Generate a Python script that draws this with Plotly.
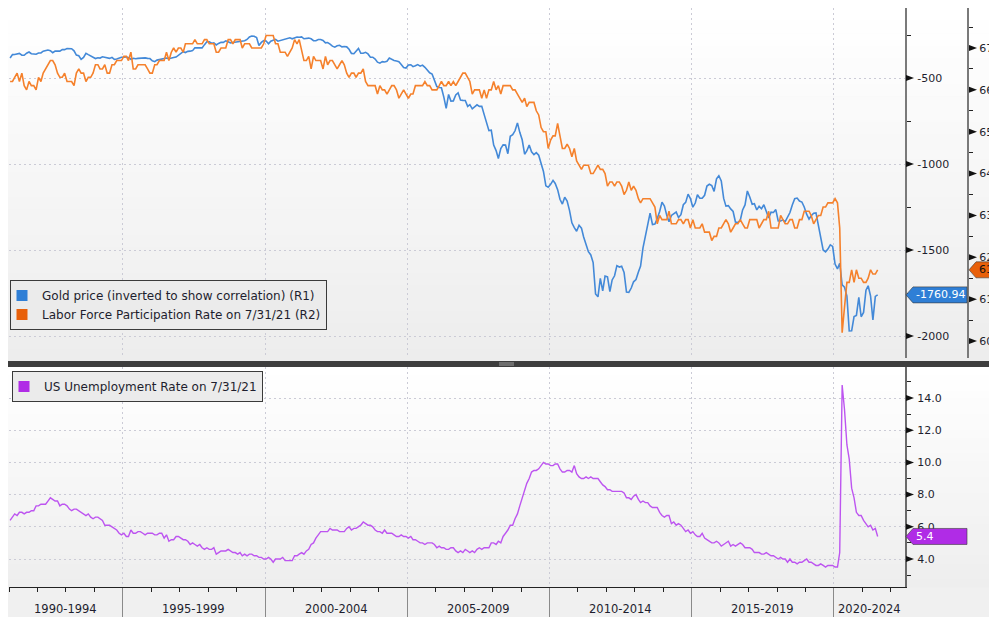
import pandas as pd
import plotly.graph_objects as go

# ---------------- data (monthly, Jan 1991 .. Jul 2021) ----------------
gold_price = [
    384, 364, 363, 358, 357, 367, 368, 356, 349, 359, 360, 362,   # 1991
    355, 354, 344, 339, 337, 341, 353, 343, 345, 344, 335, 335,   # 1992
    329, 329, 330, 342, 367, 371, 392, 380, 356, 364, 373, 383,   # 1993
    387, 382, 384, 377, 381, 386, 386, 380, 392, 390, 384, 379,   # 1994
    379, 377, 382, 391, 385, 388, 386, 384, 383, 383, 386, 387,   # 1995
    400, 405, 396, 393, 392, 385, 384, 388, 383, 381, 378, 369,   # 1996
    355, 347, 352, 345, 344, 341, 324, 324, 323, 325, 306, 289,   # 1997
    289, 298, 296, 308, 299, 292, 293, 284, 289, 296, 294, 292,   # 1998
    287, 287, 286, 283, 276, 261, 256, 257, 265, 311, 293, 283,   # 1999
    285, 301, 286, 280, 275, 286, 282, 275, 274, 270, 266, 272,   # 2000
    266, 262, 263, 261, 272, 270, 268, 272, 283, 283, 276, 276,   # 2001
    282, 296, 294, 303, 315, 321, 313, 310, 319, 317, 319, 333,   # 2002
    357, 359, 341, 328, 356, 356, 351, 360, 379, 379, 390, 408,   # 2003
    414, 405, 407, 403, 384, 392, 398, 401, 405, 421, 439, 442,   # 2004
    424, 423, 434, 429, 422, 431, 425, 438, 456, 470, 477, 510,   # 2005
    550, 555, 557, 611, 677, 596, 634, 633, 598, 586, 628, 630,   # 2006
    631, 665, 655, 679, 667, 656, 665, 665, 713, 755, 806, 803,   # 2007
    890, 922, 968, 910, 889, 890, 940, 839, 830, 807, 761, 816,   # 2008
    859, 943, 924, 890, 929, 946, 934, 949, 997, 1043, 1127, 1135,  # 2009
    1118, 1095, 1113, 1149, 1205, 1233, 1193, 1216, 1271, 1342, 1370, 1391,  # 2010
    1356, 1373, 1424, 1474, 1510, 1529, 1573, 1756, 1772, 1665, 1738, 1652,  # 2011
    1656, 1742, 1674, 1650, 1591, 1599, 1594, 1630, 1745, 1747, 1721, 1685,  # 2012
    1672, 1628, 1593, 1488, 1414, 1343, 1286, 1352, 1349, 1317, 1276, 1222,  # 2013
    1244, 1300, 1336, 1299, 1288, 1279, 1311, 1295, 1237, 1223, 1175, 1201,  # 2014
    1251, 1227, 1179, 1199, 1199, 1182, 1128, 1118, 1125, 1159, 1086, 1068,  # 2015
    1098, 1200, 1245, 1242, 1261, 1276, 1337, 1340, 1327, 1267, 1238, 1157,  # 2016
    1192, 1234, 1231, 1267, 1246, 1260, 1237, 1283, 1314, 1280, 1282, 1265,  # 2017
    1331, 1331, 1325, 1335, 1304, 1282, 1238, 1202, 1198, 1215, 1221, 1250,  # 2018
    1292, 1320, 1301, 1286, 1284, 1359, 1413, 1500, 1511, 1495, 1470, 1479,  # 2019
    1582, 1610, 1577, 1703, 1716, 1768, 1971, 1970, 1887, 1880, 1776, 1888,  # 2020
    1863, 1734, 1708, 1768, 1906, 1770, 1760.94,                             # 2021
]

participation_rate = [
    66.2, 66.2, 66.3, 66.4, 66.2, 66.4, 66.1, 66.0, 66.2, 66.1, 66.1, 66.0,  # 1991
    66.3, 66.2, 66.4, 66.5, 66.6, 66.7, 66.7, 66.6, 66.4, 66.3, 66.3, 66.4,  # 1992
    66.2, 66.2, 66.2, 66.1, 66.4, 66.5, 66.4, 66.4, 66.2, 66.3, 66.3, 66.4,  # 1993
    66.6, 66.6, 66.5, 66.5, 66.6, 66.4, 66.4, 66.6, 66.6, 66.7, 66.7, 66.7,  # 1994
    66.8, 66.8, 66.7, 66.9, 66.5, 66.5, 66.6, 66.6, 66.6, 66.6, 66.5, 66.4,  # 1995
    66.4, 66.6, 66.6, 66.7, 66.7, 66.7, 66.9, 66.7, 66.9, 67.0, 66.9, 67.0,  # 1996
    67.0, 66.9, 67.1, 67.1, 67.1, 67.1, 67.2, 67.1, 67.1, 67.1, 67.2, 67.2,  # 1997
    67.1, 67.1, 67.1, 66.9, 66.9, 67.0, 67.0, 67.0, 67.2, 67.2, 67.1, 67.2,  # 1998
    67.2, 67.2, 67.0, 67.1, 67.1, 67.1, 67.0, 67.0, 67.0, 67.0, 67.0, 67.1,  # 1999
    67.3, 67.3, 67.3, 67.3, 67.1, 67.1, 66.9, 66.9, 66.9, 66.8, 66.9, 67.0,  # 2000
    67.2, 67.1, 67.2, 66.9, 66.7, 66.7, 66.8, 66.5, 66.8, 66.7, 66.7, 66.7,  # 2001
    66.5, 66.8, 66.6, 66.7, 66.7, 66.6, 66.5, 66.6, 66.7, 66.6, 66.4, 66.3,  # 2002
    66.4, 66.4, 66.3, 66.4, 66.4, 66.5, 66.2, 66.1, 66.1, 66.1, 66.1, 65.9,  # 2003
    66.1, 66.0, 66.0, 65.9, 66.0, 66.1, 66.1, 66.0, 65.8, 65.9, 66.0, 65.9,  # 2004
    65.8, 65.9, 65.9, 66.1, 66.1, 66.1, 66.1, 66.2, 66.1, 66.1, 66.0, 66.0,  # 2005
    66.0, 66.1, 66.2, 66.1, 66.1, 66.2, 66.1, 66.2, 66.1, 66.2, 66.3, 66.4,  # 2006
    66.4, 66.3, 66.2, 65.9, 66.0, 66.0, 66.0, 65.8, 66.0, 65.8, 66.0, 66.0,  # 2007
    66.2, 66.0, 66.1, 65.9, 66.1, 66.1, 66.1, 66.1, 66.0, 66.0, 65.9, 65.8,  # 2008
    65.7, 65.8, 65.6, 65.7, 65.7, 65.7, 65.5, 65.4, 65.1, 65.0, 65.0, 64.6,  # 2009
    64.8, 64.9, 64.9, 65.2, 64.9, 64.6, 64.6, 64.7, 64.6, 64.4, 64.6, 64.3,  # 2010
    64.2, 64.1, 64.2, 64.2, 64.2, 64.0, 64.0, 64.1, 64.2, 64.1, 64.1, 64.0,  # 2011
    63.7, 63.8, 63.8, 63.7, 63.8, 63.8, 63.7, 63.5, 63.6, 63.8, 63.6, 63.7,  # 2012
    63.6, 63.4, 63.3, 63.4, 63.4, 63.4, 63.4, 63.3, 63.2, 62.8, 63.0, 62.9,  # 2013
    62.9, 62.9, 63.1, 62.8, 62.8, 62.8, 62.9, 62.9, 62.8, 62.9, 62.9, 62.7,  # 2014
    62.9, 62.7, 62.7, 62.7, 62.8, 62.6, 62.6, 62.6, 62.4, 62.5, 62.5, 62.7,  # 2015
    62.7, 62.8, 62.9, 62.8, 62.6, 62.7, 62.8, 62.8, 62.9, 62.8, 62.7, 62.7,  # 2016
    62.9, 62.9, 62.9, 62.9, 62.7, 62.8, 62.9, 62.9, 63.1, 62.7, 62.7, 62.7,  # 2017
    62.7, 63.0, 62.9, 62.8, 62.8, 62.9, 62.9, 62.7, 62.7, 62.9, 62.9, 63.1,  # 2018
    63.1, 63.1, 63.0, 62.8, 62.9, 63.0, 63.0, 63.2, 63.2, 63.3, 63.3, 63.3,  # 2019
    63.4, 63.3, 62.7, 60.2, 60.8, 61.4, 61.4, 61.7, 61.4, 61.7, 61.5, 61.5,  # 2020
    61.4, 61.4, 61.5, 61.7, 61.6, 61.6, 61.7,                                # 2021
]

unemployment_rate = [
    6.4, 6.6, 6.8, 6.7, 6.9, 6.9, 6.8, 6.9, 6.9, 7.0, 7.0, 7.3,   # 1991
    7.3, 7.4, 7.4, 7.4, 7.6, 7.8, 7.7, 7.6, 7.6, 7.3, 7.4, 7.4,   # 1992
    7.3, 7.1, 7.0, 7.1, 7.1, 7.0, 6.9, 6.8, 6.7, 6.8, 6.6, 6.5,   # 1993
    6.6, 6.6, 6.5, 6.4, 6.1, 6.1, 6.1, 6.0, 5.9, 5.8, 5.6, 5.5,   # 1994
    5.6, 5.4, 5.4, 5.8, 5.6, 5.6, 5.7, 5.7, 5.6, 5.5, 5.6, 5.6,   # 1995
    5.6, 5.5, 5.5, 5.6, 5.6, 5.3, 5.5, 5.1, 5.2, 5.2, 5.4, 5.4,   # 1996
    5.3, 5.2, 5.2, 5.1, 4.9, 5.0, 4.9, 4.8, 4.9, 4.7, 4.6, 4.7,   # 1997
    4.6, 4.6, 4.7, 4.3, 4.4, 4.5, 4.5, 4.5, 4.6, 4.5, 4.4, 4.4,   # 1998
    4.3, 4.4, 4.2, 4.3, 4.2, 4.3, 4.3, 4.2, 4.2, 4.1, 4.1, 4.0,   # 1999
    4.0, 4.1, 4.0, 3.8, 4.0, 4.0, 4.0, 4.1, 3.9, 3.9, 3.9, 3.9,   # 2000
    4.2, 4.2, 4.3, 4.4, 4.3, 4.5, 4.6, 4.9, 5.0, 5.3, 5.5, 5.7,   # 2001
    5.7, 5.7, 5.7, 5.9, 5.8, 5.8, 5.8, 5.7, 5.7, 5.7, 5.9, 6.0,   # 2002
    5.8, 5.9, 5.9, 6.0, 6.1, 6.3, 6.2, 6.1, 6.1, 6.0, 5.8, 5.7,   # 2003
    5.7, 5.6, 5.8, 5.6, 5.6, 5.6, 5.5, 5.4, 5.4, 5.5, 5.4, 5.4,   # 2004
    5.3, 5.4, 5.2, 5.2, 5.1, 5.0, 5.0, 4.9, 5.0, 5.0, 5.0, 4.9,   # 2005
    4.7, 4.8, 4.7, 4.7, 4.6, 4.6, 4.7, 4.7, 4.5, 4.4, 4.5, 4.4,   # 2006
    4.6, 4.5, 4.4, 4.5, 4.4, 4.6, 4.7, 4.6, 4.7, 4.7, 4.7, 5.0,   # 2007
    5.0, 4.9, 5.1, 5.0, 5.4, 5.6, 5.8, 6.1, 6.1, 6.5, 6.8, 7.3,   # 2008
    7.8, 8.3, 8.7, 9.0, 9.4, 9.5, 9.5, 9.6, 9.8, 10.0, 9.9, 9.9,  # 2009
    9.8, 9.8, 9.9, 9.9, 9.6, 9.4, 9.4, 9.5, 9.5, 9.4, 9.8, 9.3,   # 2010
    9.1, 9.0, 9.0, 9.1, 9.0, 9.1, 9.0, 9.0, 9.0, 8.8, 8.6, 8.5,   # 2011
    8.3, 8.3, 8.2, 8.2, 8.2, 8.2, 8.2, 8.1, 7.8, 7.8, 7.7, 7.9,   # 2012
    8.0, 7.7, 7.5, 7.6, 7.5, 7.5, 7.3, 7.2, 7.2, 7.2, 6.9, 6.7,   # 2013
    6.6, 6.7, 6.7, 6.2, 6.3, 6.1, 6.2, 6.1, 5.9, 5.7, 5.8, 5.6,   # 2014
    5.7, 5.5, 5.4, 5.4, 5.6, 5.3, 5.2, 5.1, 5.0, 5.0, 5.1, 5.0,   # 2015
    4.8, 4.9, 5.0, 5.1, 4.8, 4.9, 4.8, 4.9, 5.0, 4.9, 4.7, 4.7,   # 2016
    4.7, 4.6, 4.4, 4.4, 4.4, 4.3, 4.3, 4.4, 4.3, 4.2, 4.2, 4.1,   # 2017
    4.0, 4.1, 4.0, 4.0, 3.8, 4.0, 3.8, 3.8, 3.7, 3.8, 3.8, 3.9,   # 2018
    4.0, 3.8, 3.8, 3.7, 3.6, 3.6, 3.7, 3.6, 3.5, 3.6, 3.6, 3.6,   # 2019
    3.5, 3.5, 4.4, 14.8, 13.3, 11.1, 10.2, 8.4, 7.8, 6.9, 6.7, 6.7,  # 2020
    6.4, 6.2, 6.0, 6.1, 5.8, 5.9, 5.4,                               # 2021
]

period_labels = ["1990-1994", "1995-1999", "2000-2004", "2005-2009",
                 "2010-2014", "2015-2019", "2020-2024"]
period_starts = [1990, 1995, 2000, 2005, 2010, 2015, 2020]
r1_ticks = [-500, -1000, -1500, -2000]
r2_ticks = [60, 61, 62, 63, 64, 65, 66, 67]
r3_ticks = [4, 6, 8, 10, 12, 14]

gold_name = "Gold price (inverted to show correlation) (R1)"
lfpr_name = "Labor Force Participation Rate on 7/31/21 (R2)"
unemp_name = "US Unemployment Rate on 7/31/21"

# ---------------- styling / geometry ----------------
BLUE, ORANGE, PURPLE = "#4389d8", "#f5812c", "#bd55f0"
BLUE_BOX, ORANGE_BOX, PURPLE_BOX = "#2f7fd6", "#e8600a", "#b02ce6"
TXT = "#1e1e2e"
OFF = 8                      # page body margin: figure sits at (8, 8) in the window
W, H = 997 - OFF, 617 - OFF
ML, MR, MT, MB = 1, 29, 0, 30
PW, PH = W - ML - MR, H - MT - MB


def px(p):  # window pixel x -> paper fraction
    return (p - OFF - ML) / PW


def py(p):  # window pixel y -> paper fraction
    return (H - MB - (p - OFF)) / PH


def span(v1, p1, v2, p2, top, bot):  # axis range from two reference tick positions
    k = (v1 - v2) / (p1 - p2)
    return [v1 + (bot - p1) * k, v1 + (top - p1) * k]


X_END = px(905)
TOP_PX, TOP_BOT_PX = 8, 358
BOT_TOP_PX, BOT_PX = 367, 587
TOP_DOM = [py(TOP_BOT_PX), 1.0]
BOT_DOM = [0.0, py(BOT_TOP_PX)]
X_RANGE = ["1991-01-01", "2022-07-01"]
R1_RANGE = span(-500, 78, -2000, 336, TOP_PX, TOP_BOT_PX)
R2_RANGE = span(67, 48, 60, 341, TOP_PX, TOP_BOT_PX)
R3_RANGE = span(14, 398, 4, 559, BOT_TOP_PX, BOT_PX)

months = pd.date_range("1991-01-01", periods=len(gold_price), freq="MS") + pd.Timedelta(days=14)
gold_inverted = [-v for v in gold_price]

fig = go.Figure()
fig.add_trace(go.Scatter(x=months, y=gold_inverted, xaxis="x2", yaxis="y", mode="lines",
                         line=dict(color=BLUE, width=1.6), showlegend=False, hoverinfo="skip"))
fig.add_trace(go.Scatter(x=months[:len(participation_rate)], y=participation_rate, xaxis="x2", yaxis="y2",
                         mode="lines", line=dict(color=ORANGE, width=1.6), showlegend=False, hoverinfo="skip"))
fig.add_trace(go.Scatter(x=months[:len(unemployment_rate)], y=unemployment_rate, xaxis="x", yaxis="y3",
                         mode="lines", line=dict(color=PURPLE, width=1.4), showlegend=False, hoverinfo="skip"))

# legend entries (square swatches)
for name, col, leg, xa, ya in [(gold_name, BLUE_BOX, "legend", "x2", "y"),
                               (lfpr_name, ORANGE_BOX, "legend", "x2", "y2"),
                               (unemp_name, PURPLE_BOX, "legend2", "x", "y3")]:
    fig.add_trace(go.Scatter(x=[None], y=[None], mode="markers", name=name, legend=leg,
                             xaxis=xa, yaxis=ya,
                             marker=dict(symbol="square", size=11, color=col)))

year_ticks = [f"{y}-01-01" for y in period_starts[1:]]
grid = dict(showgrid=True, gridcolor="#cbcbd6", griddash="2px,3px", gridwidth=1)
tickfont = dict(family="DejaVu Sans", size=11, color=TXT)
legfont = dict(family="DejaVu Sans", size=12, color=TXT)
hidden_major = dict(ticks="outside", ticklen=8, tickwidth=1, tickcolor="rgba(0,0,0,0)")

fig.update_layout(
    width=W, height=H,
    margin=dict(l=ML, r=MR, t=MT, b=MB, autoexpand=False),
    paper_bgcolor="#f0f0f0", plot_bgcolor="rgba(0,0,0,0)",
    font=dict(family="DejaVu Sans", size=11, color=TXT),
    xaxis=dict(domain=[0, X_END], anchor="y3", type="date", range=X_RANGE,
               tickmode="array", tickvals=year_ticks, showticklabels=False,
               ticks="outside", ticklen=30, tickcolor="#8a8a8a", tickwidth=1,
               showline=True, linecolor="#222222", linewidth=1, zeroline=False,
               minor=dict(dtick="M12", tick0="1991-01-01", ticks="outside", ticklen=4,
                          tickcolor="#222222", tickwidth=1, showgrid=False),
               **grid),
    xaxis2=dict(domain=[0, X_END], anchor="y", matches="x", type="date",
                tickmode="array", tickvals=year_ticks, showticklabels=False, ticks="",
                showline=False, zeroline=False, **grid),
    yaxis=dict(domain=TOP_DOM, anchor="x2", side="right", range=R1_RANGE,
               tickmode="array", tickvals=r1_ticks, ticktext=[str(v) for v in r1_ticks],
               tickfont=tickfont, **hidden_major,
               showline=True, linecolor="#7a7a7a", linewidth=2, zeroline=False, automargin=False,
               minor=dict(dtick=250, tick0=0, ticks="outside", ticklen=4, tickcolor="#222222",
                          tickwidth=1, showgrid=False),
               **grid),
    yaxis2=dict(overlaying="y", anchor="free", position=1.0, side="right", range=R2_RANGE,
                tickmode="array", tickvals=r2_ticks, ticktext=[f"{v:.1f}" for v in r2_ticks],
                tickfont=tickfont, **hidden_major,
                showline=True, linecolor="#7a7a7a", linewidth=2, zeroline=False, showgrid=False,
                automargin=False,
                minor=dict(dtick=0.5, tick0=0, ticks="outside", ticklen=4, tickcolor="#222222",
                           tickwidth=1, showgrid=False)),
    yaxis3=dict(domain=BOT_DOM, anchor="x", side="right", range=R3_RANGE,
                tickmode="array", tickvals=r3_ticks, ticktext=[f"{v:.1f}" for v in r3_ticks],
                tickfont=tickfont, **hidden_major,
                showline=True, linecolor="#6a6a6a", linewidth=2, zeroline=False, automargin=False,
                minor=dict(dtick=1, tick0=0, ticks="outside", ticklen=4, tickcolor="#222222",
                           tickwidth=1, showgrid=False),
                **grid),
    legend=dict(x=px(10), y=py(280), xanchor="left", yanchor="top", bgcolor="#ebebeb",
                bordercolor="#3a3a3a", borderwidth=1, itemwidth=30, tracegroupgap=0,
                indentation=-9, font=legfont),
    legend2=dict(x=px(12), y=py(371), xanchor="left", yanchor="top", bgcolor="#ebebeb",
                 bordercolor="#3a3a3a", borderwidth=1, itemwidth=30, indentation=-9,
                 font=legfont),
    showlegend=True,
)


# background gradients (panel shading)
def hexmix(c1, c2, t):
    a = [int(c1[i:i + 2], 16) for i in (1, 3, 5)]
    b = [int(c2[i:i + 2], 16) for i in (1, 3, 5)]
    return "#" + "".join(f"{round(a[k] + (b[k] - a[k]) * t):02x}" for k in range(3))


def gradient(top_px, bot_px, c_top, c_bot, n=28):
    for i in range(n):
        y0 = top_px + (bot_px - top_px) * i / n
        y1 = top_px + (bot_px - top_px) * (i + 1) / n
        fig.add_shape(type="rect", xref="paper", yref="paper", x0=px(OFF), x1=px(997),
                      y0=py(y1 + 0.5), y1=py(y0), fillcolor=hexmix(c_top, c_bot, i / (n - 1)),
                      line=dict(width=0), layer="below")


gradient(OFF, 361, "#ffffff", "#ededed")
gradient(367, 587, "#ffffff", "#eeeeee")

# panel divider
fig.add_shape(type="rect", xref="paper", yref="paper", x0=px(OFF), x1=px(997), y0=py(367), y1=py(361),
              fillcolor="#3e3e3e", line=dict(width=0), layer="above")
fig.add_shape(type="rect", xref="paper", yref="paper", x0=px(499), x1=px(514), y0=py(366), y1=py(362),
              fillcolor="#6e6e6e", line=dict(width=0), layer="above")

# triangular major-tick pointers on the value axes
for vals, yref, xa in [(r1_ticks, "y", X_END), (r2_ticks, "y2", 1.0), (r3_ticks, "y3", X_END)]:
    for v in vals:
        fig.add_shape(type="path", xref="paper", yref=yref, xsizemode="pixel", ysizemode="pixel",
                      xanchor=xa, yanchor=v, path="M 1 -3 L 9 0 L 1 3 Z",
                      fillcolor="#111111", line=dict(width=0), layer="above")

# last-value tags on the axes
tags = [
    (gold_inverted[-1], "y", X_END, BLUE_BOX, "white", f"{gold_inverted[-1]:.2f}", 62),
    (participation_rate[-1], "y2", 1.0, ORANGE_BOX, "#111111", f"{participation_rate[-1]:.1f}", 60),
    (unemployment_rate[-1], "y3", X_END, PURPLE_BOX, "white", f"{unemployment_rate[-1]:.1f}", 62),
]
for val, yref, xa, col, tcol, txt, wid in tags:
    fig.add_shape(type="path", xref="paper", yref=yref, xsizemode="pixel", ysizemode="pixel",
                  xanchor=xa, yanchor=val,
                  path=f"M 1 0 L 8 8 L {wid} 8 L {wid} -8 L 8 -8 Z",
                  fillcolor=col, line=dict(color="#3a3a3a", width=0.6), layer="above")
    fig.add_annotation(x=xa, xref="paper", y=val, yref=yref, xanchor="left", yanchor="middle",
                       xshift=9, text=txt, showarrow=False,
                       font=dict(family="DejaVu Sans", size=11, color=tcol))

# period labels under the time axis
x_lo, x_hi = pd.Timestamp(X_RANGE[0]), pd.Timestamp(X_RANGE[1])
for lab, s in zip(period_labels, period_starts):
    a = max(pd.Timestamp(f"{s}-01-01"), x_lo)
    b = min(pd.Timestamp(f"{s + 5}-01-01"), x_hi)
    fig.add_annotation(x=a + (b - a) / 2, xref="x", y=py(609), yref="paper", text=lab,
                       showarrow=False, xanchor="center", yanchor="middle",
                       font=dict(family="DejaVu Sans", size=11.5, color=TXT))

fig.write_html("out.html")
